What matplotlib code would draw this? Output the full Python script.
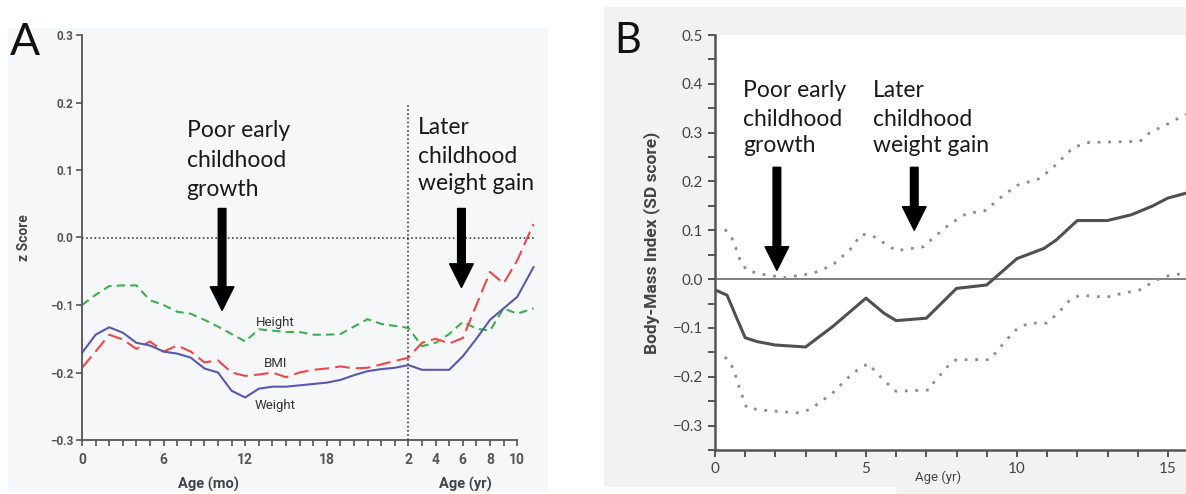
import numpy as np
from matplotlib import pyplot as plt
from matplotlib.patches import Rectangle

# ---- panel A data (months 0-24, then years) ----
age_mo = np.arange(25)
age_yr = np.array([3, 4, 5, 6, 7, 8, 9, 10, 11.2])

height_mo = [-0.100, -0.085, -0.072, -0.071, -0.071, -0.093, -0.100, -0.110,
             -0.113, -0.122, -0.132, -0.143, -0.154, -0.136, -0.138, -0.140,
             -0.140, -0.144, -0.144, -0.143, -0.132, -0.121, -0.128, -0.131,
             -0.134]
height_yr = [-0.161, -0.156, -0.143, -0.125, -0.135, -0.138, -0.105, -0.113,
             -0.105]

weight_mo = [-0.171, -0.144, -0.133, -0.141, -0.156, -0.160, -0.169, -0.172,
             -0.178, -0.194, -0.200, -0.227, -0.237, -0.224, -0.221, -0.221,
             -0.219, -0.217, -0.215, -0.211, -0.204, -0.198, -0.195, -0.193,
             -0.189]
weight_yr = [-0.196, -0.196, -0.196, -0.176, -0.150, -0.122, -0.105, -0.088,
             -0.044]

bmi_mo = [-0.193, -0.169, -0.144, -0.151, -0.165, -0.154, -0.169, -0.160,
          -0.169, -0.185, -0.182, -0.200, -0.205, -0.203, -0.200, -0.207,
          -0.200, -0.196, -0.194, -0.191, -0.194, -0.193, -0.188, -0.183,
          -0.178]
bmi_yr = [-0.156, -0.150, -0.157, -0.149, -0.100, -0.051, -0.068, -0.034,
          0.020]

xticks_a = [0, 6, 12, 18, 24, 26, 28, 30, 32]
xlabels_a = ['0', '6', '12', '18', '2', '4', '6', '8', '10']

# ---- panel B data ----
age_b = [0, 0.4, 0.7, 1.0, 1.4, 2.0, 3.0, 3.9, 5.0, 5.6, 6.0, 7.0, 8.0, 9.0,
         10.0, 10.9, 11.3, 12.0, 13.0, 13.8, 14.5, 15.0, 15.6]
bmi_b = [-0.022, -0.033, -0.077, -0.120, -0.128, -0.135, -0.139, -0.097,
         -0.039, -0.070, -0.085, -0.080, -0.019, -0.012, 0.042, 0.063, 0.080,
         0.120, 0.120, 0.132, 0.150, 0.166, 0.176]

age_up = [0.33, 0.6, 0.83, 1.05, 1.55, 2.3, 3.25, 3.9, 4.57, 4.8, 5.0, 5.3,
          6.0, 6.4, 6.9, 7.2, 7.8, 8.33, 9.0, 9.33, 10.0, 10.76, 11.2, 11.87,
          12.4, 14.07, 14.4, 15.07, 15.6]
ci_up = [0.102, 0.080, 0.039, 0.018, 0.010, 0.003, 0.012, 0.029, 0.066, 0.090,
         0.092, 0.086, 0.058, 0.062, 0.066, 0.083, 0.114, 0.134, 0.141, 0.161,
         0.192, 0.206, 0.229, 0.270, 0.280, 0.282, 0.300, 0.320, 0.338]

age_lo = [0.33, 0.6, 0.83, 1.05, 1.71, 2.7, 3.15, 3.9, 4.57, 5.07, 5.57, 6.0,
          7.1, 7.23, 7.8, 8.0, 9.1, 9.66, 10.0, 10.4, 11.0, 11.4, 11.75,
          12.08, 12.97, 13.5, 14.07, 14.6, 15.07, 15.6]
ci_lo = [-0.159, -0.182, -0.227, -0.264, -0.269, -0.274, -0.267, -0.233,
         -0.192, -0.173, -0.206, -0.230, -0.227, -0.213, -0.172, -0.165,
         -0.165, -0.124, -0.102, -0.090, -0.090, -0.067, -0.043, -0.033,
         -0.037, -0.029, -0.022, -0.002, 0.008, 0.012]

W, H = 1186, 494
TXT = ['Lato', 'DejaVu Sans']
NARROW = ['Roboto', 'DejaVu Sans']


def box(x0, y0, x1, y1):
    # pixel box (top-left origin) -> figure fraction [l, b, w, h]
    return [x0 / W, 1 - y1 / H, (x1 - x0) / W, (y1 - y0) / H]


def panel_bg(fig, x0, y0, x1, y1, color):
    l, b, w, h = box(x0, y0, x1, y1)
    fig.patches.append(Rectangle((l, b), w, h, transform=fig.transFigure,
                                 color=color, zorder=-5))


def arrow(ax, x, y0, y1):
    ax.annotate('', xy=(x, y1), xytext=(x, y0),
                arrowprops=dict(facecolor='black', edgecolor='black',
                                width=5.5, headwidth=17, headlength=17,
                                shrink=0))


def lines(ax, x, ys, words):
    for y, w in zip(ys, words):
        ax.text(x, y, w, fontsize=16.5, family=TXT, color='#1a1a1a',
                va='baseline', ha='left')


fig = plt.figure(figsize=(W / 100, H / 100), dpi=100)
panel_bg(fig, 8, 28, 547, 490, '#f6f7f9')
panel_bg(fig, 604, 7, 1186, 494, '#f2f2f2')
panel_bg(fig, 604, 487, 895, 494, 'white')

# ---------------- panel A ----------------
ax = fig.add_axes(box(82, 35, 82 + 34 * 13.6, 440))
ax.set_facecolor('none')
u_yr = age_yr + 22
ax.plot(np.r_[age_mo, u_yr], np.r_[height_mo, height_yr], color='#3cb04e',
        lw=1.5, ls=(0, (4, 2.5)))
ax.plot(np.r_[age_mo, u_yr], np.r_[bmi_mo, bmi_yr], color='#ec4848',
        lw=1.5, ls=(0, (7, 3)))
ax.plot(np.r_[age_mo, u_yr], np.r_[weight_mo, weight_yr], color='#5858ae',
        lw=1.5)
ax.plot([0, 33.3], [0, 0], color='#444', lw=1.2, ls=(0, (1, 1.5)))
ax.plot([24, 24], [-0.3, 0.2], color='#444', lw=1.2, ls=(0, (1, 1.5)))

for lab, y in zip(['Height', 'BMI', 'Weight'], [-0.126, -0.186, -0.249]):
    ax.text(14.2, y, lab, fontsize=9.5, family=NARROW, color='#333',
            ha='center', va='center')

ax.set_xlim(0, 34)
ax.set_ylim(-0.3, 0.3)
for s in ['top', 'right']:
    ax.spines[s].set_visible(False)
for s in ['left', 'bottom']:
    ax.spines[s].set_color('#555')
    ax.spines[s].set_linewidth(1.3)
ax.spines['bottom'].set_bounds(0, 32)
ax.set_yticks(np.arange(-0.3, 0.31, 0.1))
ax.set_yticklabels(['\u22120.3', '\u22120.2', '\u22120.1', '0.0', '0.1', '0.2', '0.3'])
ax.set_xticks(xticks_a)
ax.set_xticklabels(xlabels_a)
ax.set_xticks(list(range(25)) + [25, 27, 29, 31], minor=True)
ax.tick_params(which='both', length=4, width=1.2, color='#555')
ax.tick_params(axis='y', labelsize=8.5, labelcolor='#555', pad=2)
ax.tick_params(axis='x', labelsize=10, labelcolor='#555', pad=5)
for t in ax.get_xticklabels() + ax.get_yticklabels():
    t.set_family(NARROW)
    t.set_fontweight('bold')
ax.text(9.3, -0.366, 'Age (mo)', fontsize=10.5, family=NARROW, weight='bold',
        color='#444', ha='center', va='center')
ax.text(28.2, -0.366, 'Age (yr)', fontsize=10.5, family=NARROW, weight='bold',
        color='#444', ha='center', va='center')
ax.set_ylabel('z Score', fontsize=10, family=NARROW, weight='bold',
              color='#444', labelpad=14)

arrow(ax, 10.3, 0.043, -0.108)
arrow(ax, 27.9, 0.043, -0.074)
lines(ax, 7.7, [0.1486, 0.1041, 0.0622], ['Poor early', 'childhood', 'growth'])
lines(ax, 24.7, [0.154, 0.111, 0.070], ['Later', 'childhood', 'weight gain'])
fig.text(10 / W, 1 - 55 / H, 'A', fontsize=32, family=TXT, color='#111')

# ---------------- panel B ----------------
bx = fig.add_axes(box(715, 35, 1186, 450))
bx.set_facecolor('white')
bx.axhline(0, color='#808080', lw=1.4)
bx.plot(age_up, ci_up, color='#8c8c8c', lw=2.0, ls=(0, (1, 2.8)))
bx.plot(age_lo, ci_lo, color='#8c8c8c', lw=2.0, ls=(0, (1, 2.8)))
bx.plot(age_b, bmi_b, color='#505050', lw=2.2)

bx.set_xlim(0, 15.6)
bx.set_ylim(-0.35, 0.5)
for s in ['top', 'right']:
    bx.spines[s].set_visible(False)
for s in ['left', 'bottom']:
    bx.spines[s].set_color('#555')
    bx.spines[s].set_linewidth(1.8)
bx.set_yticks(np.arange(-0.3, 0.51, 0.1))
bx.set_yticklabels(['\u22120.3', '\u22120.2', '\u22120.1', '0.0', '0.1', '0.2',
                    '0.3', '0.4', '0.5'])
bx.set_yticks(np.arange(-0.35, 0.51, 0.05), minor=True)
bx.set_xticks([0, 5, 10, 15])
bx.set_xticks(range(16), minor=True)
bx.tick_params(which='both', length=5, width=1.4, color='#555')
bx.tick_params(labelsize=11, labelcolor='#444')
for t in bx.get_xticklabels() + bx.get_yticklabels():
    t.set_family(TXT)
bx.set_ylabel('Body-Mass Index (SD score)', fontsize=12.5, family=NARROW,
              weight='bold', color='#444', labelpad=9)
bx.text(7.4, -0.406, 'Age (yr)', fontsize=9.5, family=NARROW, color='#444',
        ha='center', va='center', clip_on=False)

arrow(bx, 2.05, 0.229, 0.018)
arrow(bx, 6.6, 0.229, 0.100)
lines(bx, 0.93, [0.372, 0.314, 0.260], ['Poor early', 'childhood', 'growth'])
lines(bx, 5.23, [0.372, 0.314, 0.260], ['Later', 'childhood', 'weight gain'])
fig.text(614 / W, 1 - 53 / H, 'B', fontsize=30, family=TXT, color='#111')

plt.savefig('out.png', dpi=100)
